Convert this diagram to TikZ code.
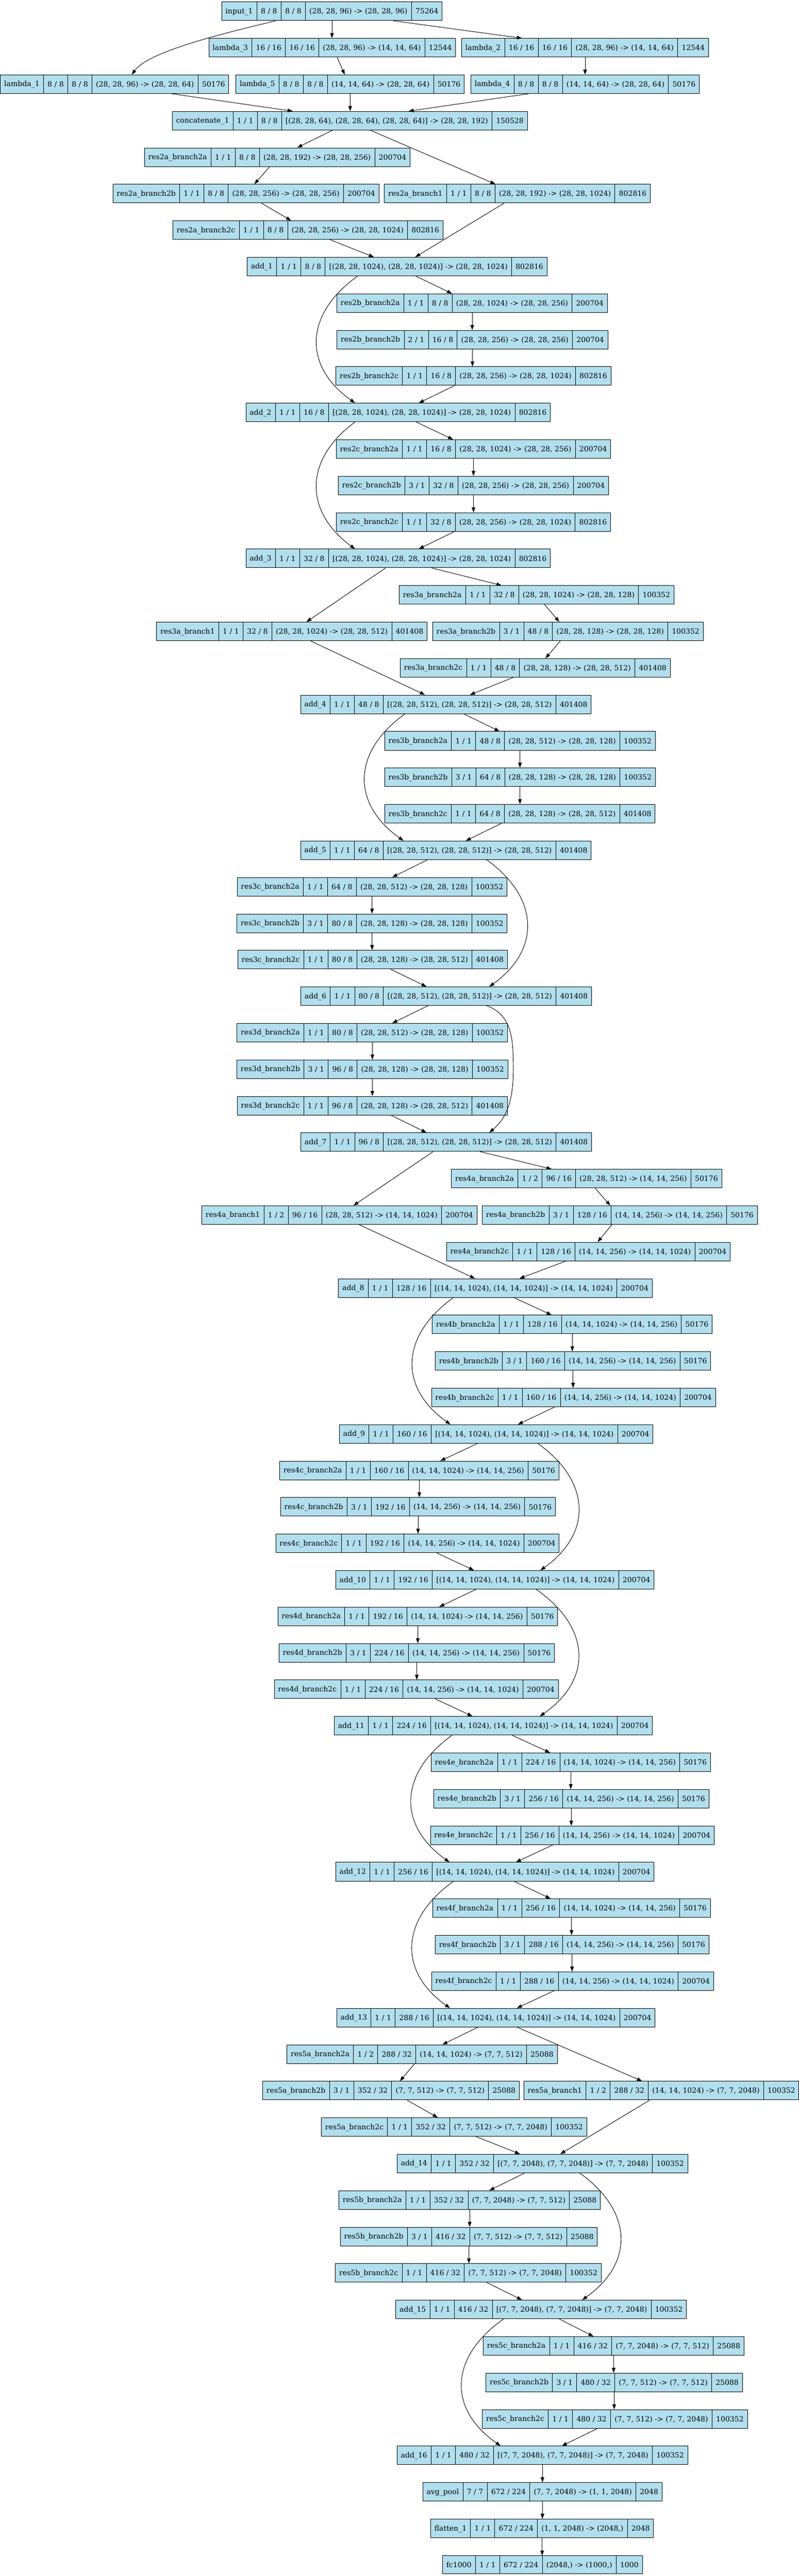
\documentclass[tikz,border=0pt]{standalone}
\usepackage{fontspec}
\setmainfont{DejaVu Serif}
\usepackage{xcolor}
\usepackage{tikz}
\usetikzlibrary{shapes.multipart}
\usetikzlibrary{arrows.meta}
\definecolor{layerblue}{HTML}{B2DFEE}
\newcommand{\cellstrut}{\rule[-3pt]{0pt}{20pt}}
\newcommand{\layerrow}[8]{\node[layerbox] (#1) at (#2,{30+97.33*#3})
  {\cellstrut#4\nodepart{two}\cellstrut#5\nodepart{three}\cellstrut#6\nodepart{four}\cellstrut#7\nodepart{five}\cellstrut#8};}
\tikzset{
  layerbox/.style={rectangle split, rectangle split horizontal, rectangle split parts=5,
    draw=black, line width=1.3pt, fill=layerblue, inner xsep=10pt, inner ysep=14pt,
    font=\fontsize{19.3pt}{22pt}\selectfont},
  conn/.style={-{Triangle[length=13.5pt,width=9.5pt]}, line width=1.3pt},
}

\begin{document}
\begin{tikzpicture}[x=1.362pt,y=-1pt]
        \useasboundingbox (0,0) rectangle ({2130/1.362},6873);

        \layerrow{input1}{650}{0}{input\_1}{8 / 8}{8 / 8}{(28, 28, 96) -> (28, 28, 96)}{75264}
        \layerrow{lambda3}{650.5}{1}{lambda\_3}{16 / 16}{16 / 16}{(28, 28, 96) -> (14, 14, 64)}{12544}
        \layerrow{lambda2}{1145.5}{1}{lambda\_2}{16 / 16}{16 / 16}{(28, 28, 96) -> (14, 14, 64)}{12544}
        \layerrow{lambda1}{224.5}{2}{lambda\_1}{8 / 8}{8 / 8}{(28, 28, 96) -> (28, 28, 64)}{50176}
        \layerrow{lambda5}{685.5}{2}{lambda\_5}{8 / 8}{8 / 8}{(14, 14, 64) -> (28, 28, 64)}{50176}
        \layerrow{lambda4}{1145.5}{2}{lambda\_4}{8 / 8}{8 / 8}{(14, 14, 64) -> (28, 28, 64)}{50176}
        \layerrow{concat1}{685}{3}{concatenate\_1}{1 / 1}{8 / 8}{[(28, 28, 64), (28, 28, 64), (28, 28, 64)] -> (28, 28, 192)}{150528}

        \layerrow{res2a2a}{543}{4}{res2a\_branch2a}{1 / 1}{8 / 8}{(28, 28, 192) -> (28, 28, 256)}{200704}
        \layerrow{res2a2b}{481.5}{5}{res2a\_branch2b}{1 / 1}{8 / 8}{(28, 28, 256) -> (28, 28, 256)}{200704}
        \layerrow{res2a1}{1013}{5}{res2a\_branch1}{1 / 1}{8 / 8}{(28, 28, 192) -> (28, 28, 1024)}{802816}
        \layerrow{res2a2c}{603}{6}{res2a\_branch2c}{1 / 1}{8 / 8}{(28, 28, 256) -> (28, 28, 1024)}{802816}
        \layerrow{add1}{777.5}{7}{add\_1}{1 / 1}{8 / 8}{[(28, 28, 1024), (28, 28, 1024)] -> (28, 28, 1024)}{802816}

        \layerrow{res2b2a}{924.5}{8}{res2b\_branch2a}{1 / 1}{8 / 8}{(28, 28, 1024) -> (28, 28, 256)}{200704}
        \layerrow{res2b2b}{925}{9}{res2b\_branch2b}{2 / 1}{16 / 8}{(28, 28, 256) -> (28, 28, 256)}{200704}
        \layerrow{res2b2c}{927}{10}{res2b\_branch2c}{1 / 1}{16 / 8}{(28, 28, 256) -> (28, 28, 1024)}{802816}
        \layerrow{add2}{779.5}{11}{add\_2}{1 / 1}{16 / 8}{[(28, 28, 1024), (28, 28, 1024)] -> (28, 28, 1024)}{802816}

        \layerrow{res2c2a}{927}{12}{res2c\_branch2a}{1 / 1}{16 / 8}{(28, 28, 1024) -> (28, 28, 256)}{200704}
        \layerrow{res2c2b}{927}{13}{res2c\_branch2b}{3 / 1}{32 / 8}{(28, 28, 256) -> (28, 28, 256)}{200704}
        \layerrow{res2c2c}{927}{14}{res2c\_branch2c}{1 / 1}{32 / 8}{(28, 28, 256) -> (28, 28, 1024)}{802816}
        \layerrow{add3}{779.5}{15}{add\_3}{1 / 1}{32 / 8}{[(28, 28, 1024), (28, 28, 1024)] -> (28, 28, 1024)}{802816}

        \layerrow{res3a2a}{1050.5}{16}{res3a\_branch2a}{1 / 1}{32 / 8}{(28, 28, 1024) -> (28, 28, 128)}{100352}
        \layerrow{res3a1}{571.5}{17}{res3a\_branch1}{1 / 1}{32 / 8}{(28, 28, 1024) -> (28, 28, 512)}{401408}
        \layerrow{res3a2b}{1112}{17}{res3a\_branch2b}{3 / 1}{48 / 8}{(28, 28, 128) -> (28, 28, 128)}{100352}
        \layerrow{res3a2c}{1048}{18}{res3a\_branch2c}{1 / 1}{48 / 8}{(28, 28, 128) -> (28, 28, 512)}{401408}
        \layerrow{add4}{873}{19}{add\_4}{1 / 1}{48 / 8}{[(28, 28, 512), (28, 28, 512)] -> (28, 28, 512)}{401408}

        \layerrow{res3b2a}{1018}{20}{res3b\_branch2a}{1 / 1}{48 / 8}{(28, 28, 512) -> (28, 28, 128)}{100352}
        \layerrow{res3b2b}{1018}{21}{res3b\_branch2b}{3 / 1}{64 / 8}{(28, 28, 128) -> (28, 28, 128)}{100352}
        \layerrow{res3b2c}{1018}{22}{res3b\_branch2c}{1 / 1}{64 / 8}{(28, 28, 128) -> (28, 28, 512)}{401408}
        \layerrow{add5}{873}{23}{add\_5}{1 / 1}{64 / 8}{[(28, 28, 512), (28, 28, 512)] -> (28, 28, 512)}{401408}

        \layerrow{res3c2a}{728.5}{24}{res3c\_branch2a}{1 / 1}{64 / 8}{(28, 28, 512) -> (28, 28, 128)}{100352}
        \layerrow{res3c2b}{728.5}{25}{res3c\_branch2b}{3 / 1}{80 / 8}{(28, 28, 128) -> (28, 28, 128)}{100352}
        \layerrow{res3c2c}{729.5}{26}{res3c\_branch2c}{1 / 1}{80 / 8}{(28, 28, 128) -> (28, 28, 512)}{401408}
        \layerrow{add6}{873.5}{27}{add\_6}{1 / 1}{80 / 8}{[(28, 28, 512), (28, 28, 512)] -> (28, 28, 512)}{401408}

        \layerrow{res3d2a}{729}{28}{res3d\_branch2a}{1 / 1}{80 / 8}{(28, 28, 512) -> (28, 28, 128)}{100352}
        \layerrow{res3d2b}{729}{29}{res3d\_branch2b}{3 / 1}{96 / 8}{(28, 28, 128) -> (28, 28, 128)}{100352}
        \layerrow{res3d2c}{729}{30}{res3d\_branch2c}{1 / 1}{96 / 8}{(28, 28, 128) -> (28, 28, 512)}{401408}
        \layerrow{add7}{873.5}{31}{add\_7}{1 / 1}{96 / 8}{[(28, 28, 512), (28, 28, 512)] -> (28, 28, 512)}{401408}

        \layerrow{res4a2a}{1148.5}{32}{res4a\_branch2a}{1 / 2}{96 / 16}{(28, 28, 512) -> (14, 14, 256)}{50176}
        \layerrow{res4a1}{664.5}{33}{res4a\_branch1}{1 / 2}{96 / 16}{(28, 28, 512) -> (14, 14, 1024)}{200704}
        \layerrow{res4a2b}{1213.5}{33}{res4a\_branch2b}{3 / 1}{128 / 16}{(14, 14, 256) -> (14, 14, 256)}{50176}
        \layerrow{res4a2c}{1152}{34}{res4a\_branch2c}{1 / 1}{128 / 16}{(14, 14, 256) -> (14, 14, 1024)}{200704}
        \layerrow{add8}{970}{35}{add\_8}{1 / 1}{128 / 16}{[(14, 14, 1024), (14, 14, 1024)] -> (14, 14, 1024)}{200704}

        \layerrow{res4b2a}{1120.5}{36}{res4b\_branch2a}{1 / 1}{128 / 16}{(14, 14, 1024) -> (14, 14, 256)}{50176}
        \layerrow{res4b2b}{1122}{37}{res4b\_branch2b}{3 / 1}{160 / 16}{(14, 14, 256) -> (14, 14, 256)}{50176}
        \layerrow{res4b2c}{1123}{38}{res4b\_branch2c}{1 / 1}{160 / 16}{(14, 14, 256) -> (14, 14, 1024)}{200704}
        \layerrow{add9}{971.5}{39}{add\_9}{1 / 1}{160 / 16}{[(14, 14, 1024), (14, 14, 1024)] -> (14, 14, 1024)}{200704}

        \layerrow{res4c2a}{821}{40}{res4c\_branch2a}{1 / 1}{160 / 16}{(14, 14, 1024) -> (14, 14, 256)}{50176}
        \layerrow{res4c2b}{818.5}{41}{res4c\_branch2b}{3 / 1}{192 / 16}{(14, 14, 256) -> (14, 14, 256)}{50176}
        \layerrow{res4c2c}{817.5}{42}{res4c\_branch2c}{1 / 1}{192 / 16}{(14, 14, 256) -> (14, 14, 1024)}{200704}
        \layerrow{add10}{969}{43}{add\_10}{1 / 1}{192 / 16}{[(14, 14, 1024), (14, 14, 1024)] -> (14, 14, 1024)}{200704}

        \layerrow{res4d2a}{818}{44}{res4d\_branch2a}{1 / 1}{192 / 16}{(14, 14, 1024) -> (14, 14, 256)}{50176}
        \layerrow{res4d2b}{816}{45}{res4d\_branch2b}{3 / 1}{224 / 16}{(14, 14, 256) -> (14, 14, 256)}{50176}
        \layerrow{res4d2c}{815}{46}{res4d\_branch2c}{1 / 1}{224 / 16}{(14, 14, 256) -> (14, 14, 1024)}{200704}
        \layerrow{add11}{966}{47}{add\_11}{1 / 1}{224 / 16}{[(14, 14, 1024), (14, 14, 1024)] -> (14, 14, 1024)}{200704}

        \layerrow{res4e2a}{1117.5}{48}{res4e\_branch2a}{1 / 1}{224 / 16}{(14, 14, 1024) -> (14, 14, 256)}{50176}
        \layerrow{res4e2b}{1118.5}{49}{res4e\_branch2b}{3 / 1}{256 / 16}{(14, 14, 256) -> (14, 14, 256)}{50176}
        \layerrow{res4e2c}{1120.5}{50}{res4e\_branch2c}{1 / 1}{256 / 16}{(14, 14, 256) -> (14, 14, 1024)}{200704}
        \layerrow{add12}{969}{51}{add\_12}{1 / 1}{256 / 16}{[(14, 14, 1024), (14, 14, 1024)] -> (14, 14, 1024)}{200704}

        \layerrow{res4f2a}{1119}{52}{res4f\_branch2a}{1 / 1}{256 / 16}{(14, 14, 1024) -> (14, 14, 256)}{50176}
        \layerrow{res4f2b}{1120}{53}{res4f\_branch2b}{3 / 1}{288 / 16}{(14, 14, 256) -> (14, 14, 256)}{50176}
        \layerrow{res4f2c}{1121}{54}{res4f\_branch2c}{1 / 1}{288 / 16}{(14, 14, 256) -> (14, 14, 1024)}{200704}
        \layerrow{add13}{971}{55}{add\_13}{1 / 1}{288 / 16}{[(14, 14, 1024), (14, 14, 1024)] -> (14, 14, 1024)}{200704}

        \layerrow{res5a2a}{826.5}{56}{res5a\_branch2a}{1 / 2}{288 / 32}{(14, 14, 1024) -> (7, 7, 512)}{25088}
        \layerrow{res5a2b}{765.5}{57}{res5a\_branch2b}{3 / 1}{352 / 32}{(7, 7, 512) -> (7, 7, 512)}{25088}
        \layerrow{res5a1}{1295}{57}{res5a\_branch1}{1 / 2}{288 / 32}{(14, 14, 1024) -> (7, 7, 2048)}{100352}
        \layerrow{res5a2c}{889}{58}{res5a\_branch2c}{1 / 1}{352 / 32}{(7, 7, 512) -> (7, 7, 2048)}{100352}
        \layerrow{add14}{1062}{59}{add\_14}{1 / 1}{352 / 32}{[(7, 7, 2048), (7, 7, 2048)] -> (7, 7, 2048)}{100352}

        \layerrow{res5b2a}{919.5}{60}{res5b\_branch2a}{1 / 1}{352 / 32}{(7, 7, 2048) -> (7, 7, 512)}{25088}
        \layerrow{res5b2b}{918}{61}{res5b\_branch2b}{3 / 1}{416 / 32}{(7, 7, 512) -> (7, 7, 512)}{25088}
        \layerrow{res5b2c}{917}{62}{res5b\_branch2c}{1 / 1}{416 / 32}{(7, 7, 512) -> (7, 7, 2048)}{100352}
        \layerrow{add15}{1059.5}{63}{add\_15}{1 / 1}{416 / 32}{[(7, 7, 2048), (7, 7, 2048)] -> (7, 7, 2048)}{100352}

        \layerrow{res5c2a}{1201.5}{64}{res5c\_branch2a}{1 / 1}{416 / 32}{(7, 7, 2048) -> (7, 7, 512)}{25088}
        \layerrow{res5c2b}{1202.5}{65}{res5c\_branch2b}{3 / 1}{480 / 32}{(7, 7, 512) -> (7, 7, 512)}{25088}
        \layerrow{res5c2c}{1204}{66}{res5c\_branch2c}{1 / 1}{480 / 32}{(7, 7, 512) -> (7, 7, 2048)}{100352}
        \layerrow{add16}{1062}{67}{add\_16}{1 / 1}{480 / 32}{[(7, 7, 2048), (7, 7, 2048)] -> (7, 7, 2048)}{100352}

        \layerrow{avgpool}{1062}{68}{avg\_pool}{7 / 7}{672 / 224}{(7, 7, 2048) -> (1, 1, 2048)}{2048}
        \layerrow{flatten1}{1061.5}{69}{flatten\_1}{1 / 1}{672 / 224}{(1, 1, 2048) -> (2048,)}{2048}
        \layerrow{fc1000}{1062}{70}{fc1000}{1 / 1}{672 / 224}{(2048,) -> (1000,)}{1000}

        % straight down
        \foreach \a/\b in {input1/lambda3, lambda2/lambda4, lambda5/concat1,
            res2b2a/res2b2b, res2b2b/res2b2c, res2c2a/res2c2b, res2c2b/res2c2c,
            res3b2a/res3b2b, res3b2b/res3b2c, res3c2a/res3c2b, res3c2b/res3c2c,
            res3d2a/res3d2b, res3d2b/res3d2c, res4b2a/res4b2b, res4b2b/res4b2c,
            res4c2a/res4c2b, res4c2b/res4c2c, res4d2a/res4d2b, res4d2b/res4d2c,
            res4e2a/res4e2b, res4e2b/res4e2c, res4f2a/res4f2b, res4f2b/res4f2c,
            res5b2a/res5b2b, res5b2b/res5b2c, res5c2a/res5c2b, res5c2b/res5c2c,
            add16/avgpool, avgpool/flatten1, flatten1/fc1000}
            \draw[conn] (\a.south) -- (\a.south |- \b.north);

        % slanted
        \foreach \a/\da/\b/\db in {input1/120/lambda2/-123.5, lambda3/9.5/lambda5/-10.5,
            lambda1/111.5/concat1/-112, lambda4/-110.5/concat1/115,
            concat1/-34/res2a2a/39, concat1/40/res2a1/-43, res2a2a/-15/res2a2b/16.5,
            res2a2b/30.5/res2a2c/-33, res2a1/-26/add1/35.5, res2a2c/43/add1/-45.5,
            add1/36.5/res2b2a/-39.5, res2b2c/-37/add2/40.5,
            add2/35.5/res2c2a/-40, res2c2c/-37/add3/40.5,
            add3/65.5/res3a2a/-68.5, add3/-24.5/res3a1/28.5, res3a2a/15.5/res3a2b/-17,
            res3a2b/-15/res3a2c/20, res3a1/36.5/add4/-41, res3a2c/-43/add4/47,
            add4/35/res3b2a/-40, res3b2c/-36/add5/39,
            add5/-36/res3c2a/39.5, res3c2c/35.5/add6/-38.5,
            add6/-35.5/res3d2a/39, res3d2c/36/add7/-38.5,
            add7/66.5/res4a2a/-68.5, add7/-25.5/res4a1/27.5, res4a2a/16.5/res4a2b/-18.5,
            res4a1/38.5/add8/-40, res4a2b/-15.5/res4a2c/18, res4a2c/-44/add8/47,
            add8/36/res4b2a/-40.5, res4b2c/-37/add9/42.5,
            add9/-36.5/res4c2a/41, res4c2c/37.5/add10/-41,
            add10/-37/res4d2a/42, res4d2c/37/add11/-41,
            add11/37/res4e2a/-40.5, res4e2c/-37.5/add12/41,
            add12/37/res4f2a/-41, res4f2c/-36/add13/41,
            add13/-35/res5a2a/39.5, add13/41/res5a1/-38, res5a2a/-14.5/res5a2b/17.5,
            res5a2b/31.5/res5a2c/-32, res5a1/-23/add14/35, res5a2c/43/add14/-44,
            add14/-35/res5b2a/38.5, res5b2c/36/add15/-37.5,
            add15/35.5/res5c2a/-39.5, res5c2c/-34/add16/38}
            \draw[conn] ([xshift=1.362*\da]\a.south) -- ([xshift=1.362*\db]\b.north);

        % shortcuts
        \draw[conn] ([xshift=-1.362*110]input1.south) .. controls +(-110,36) and +(32,-61) .. ([xshift=1.362*33.5]lambda1.north);
        \draw[conn] ([xshift=1.362*79.5]add6.south) .. controls +(50,25) and +(0,-80) .. (1005,2853)
            .. controls +(0,80) and +(35,-40) .. ([xshift=1.362*84.5]add7.north);
        \foreach \a/\da/\b/\db/\d in {add1/-77.5/add2/-84.5/-103, add2/-84.5/add3/-84.5/-100,
            add4/-80/add5/-83/-103, add5/80/add6/84.5/102,
            add8/-82/add9/-89.5/-103, add9/81.5/add10/89/103, add10/81/add11/91/105,
            add11/-81/add12/-89/-103, add12/-81/add13/-90/-103,
            add14/73/add15/80.5/103, add15/-73.5/add16/-82/-105}
            \draw[conn] ([xshift=1.362*\da]\a.south) .. controls +(\d,100) and +(\d,-100) .. ([xshift=1.362*\db]\b.north);
\end{tikzpicture}
\end{document}
